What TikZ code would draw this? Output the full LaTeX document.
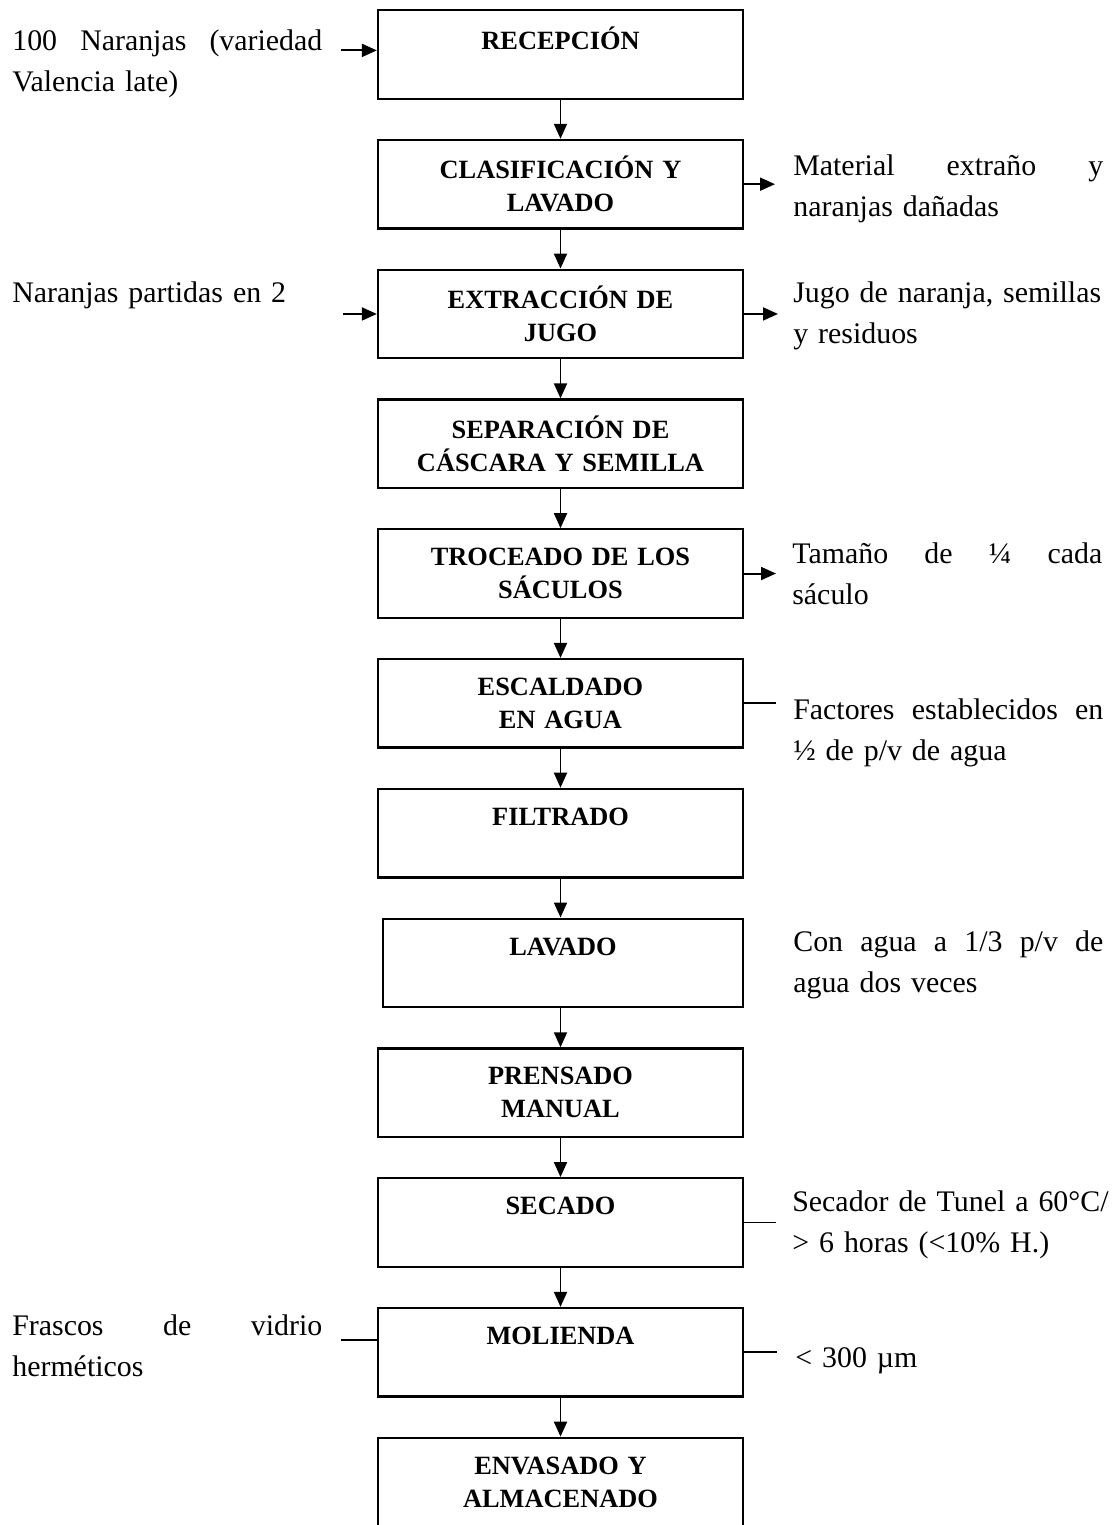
\documentclass[tikz,border=0pt]{standalone}
\usepackage{fontspec}
\setmainfont{Liberation Serif}
\usetikzlibrary{arrows.meta,positioning}

\begin{document}
\begin{tikzpicture}[
    node distance=0.78cm,
    stepbox/.style={draw, line width=1.3pt, minimum width=7.3cm, minimum height=1.77cm,
      text width=7cm, align=center, inner sep=0pt, font=\bfseries\fontsize{15}{18.7}\selectfont},
    note/.style={anchor=base west, text width=6.2cm, align=left, inner sep=0pt,
      font=\fontsize{17}{23.6}\selectfont},
    flow/.style={-{Triangle[length=3mm,width=2.6mm]}, line width=1.1pt},
    link/.style={line width=1.1pt}]
        \useasboundingbox (0,0) rectangle (22.32,-30.5);
        \clip (0,0) rectangle (22.32,-30.5);
        % process steps
        \node[stepbox, anchor=north] (b1) at (11.21,-0.18) {RECEPCIÓN\\ \mbox{}};
        \node[stepbox, below=of b1] (b2) {CLASIFICACIÓN Y\\ LAVADO};
        \node[stepbox, below=of b2] (b3) {EXTRACCIÓN DE\\ JUGO};
        \node[stepbox, below=of b3] (b4) {SEPARACIÓN DE\\ CÁSCARA Y SEMILLA};
        \node[stepbox, below=of b4] (b5) {TROCEADO DE LOS\\ SÁCULOS};
        \node[stepbox, below=of b5] (b6) {ESCALDADO\\ EN AGUA};
        \node[stepbox, below=of b6] (b7) {FILTRADO\\ \mbox{}};
        \node[stepbox, below=of b7, minimum width=7.2cm, xshift=0.05cm] (b8) {LAVADO\\ \mbox{}};
        \node[stepbox, below=of b8, xshift=-0.05cm] (b9) {PRENSADO\\ MANUAL};
        \node[stepbox, below=of b9] (b10) {SECADO\\ \mbox{}};
        \node[stepbox, below=of b10] (b11) {MOLIENDA\\ \mbox{}};
        \node[stepbox, below=of b11] (b12) {ENVASADO Y\\ ALMACENADO};
        % side notes
        \node[note] (t1) at (0.24,-1.0) {100\hfill Naranjas\hfill (variedad\\ Valencia late)};
        \node[note] (t2) at (15.86,-3.5) {Material\hfill extraño\hfill y\\ naranjas dañadas};
        \node[note] (t3) at (0.24,-6.04) {Naranjas partidas en 2};
        \node[note] (t4) at (15.86,-6.04) {Jugo de naranja, semillas\\ y residuos};
        \node[note] (t5) at (15.84,-11.26) {Tamaño\hfill de\hfill ¼\hfill cada\\ sáculo};
        \node[note] (t6) at (15.86,-14.38) {Factores\hfill establecidos\hfill en\\ ½ de p/v de agua};
        \node[note] (t7) at (15.86,-19.02) {Con\hfill agua\hfill a\hfill 1/3\hfill p/v\hfill de\\ agua dos veces};
        \node[note, text width=6.45cm] (t8) at (15.84,-24.22) {Secador de Tunel a 60°C/\\ > 6 horas (<10\% H.)};
        \node[note] (t9) at (15.9,-27.34) {< 300 µm};
        \node[note] (t10) at (0.24,-26.7) {Frascos\hfill de\hfill vidrio\\ herméticos};
        % main flow
        \draw[flow] (b1) -- (b2); \draw[flow] (b2) -- (b3); \draw[flow] (b3) -- (b4);
        \draw[flow] (b4) -- (b5); \draw[flow] (b5) -- (b6); \draw[flow] (b6) -- (b7);
        \draw[flow] (b7.south) -- (b7.south |- b8.north); \draw[flow] (b8.south -| b9.north) -- (b9.north);
        \draw[flow] (b9) -- (b10); \draw[flow] (b10) -- (b11); \draw[flow] (b11) -- (b12);
        % inputs and outputs
        \draw[flow] ([xshift=0.36cm, yshift=0.08cm]b1.west -| t1.east) -- ([yshift=0.08cm]b1.west);
        \draw[flow, shorten >=0.36cm] (b2.east) -- (b2.east -| t2.west);
        \draw[flow] ([xshift=0.4cm]b3.west -| t3.east) -- (b3.west);
        \draw[flow, shorten >=0.3cm] (b3.east) -- (b3.east -| t4.west);
        \draw[flow, shorten >=0.32cm] (b5.east) -- (b5.east -| t5.west);
        \draw[link, shorten >=0.34cm] (b6.east) -- (b6.east -| t6.west);
        \draw[link, shorten >=0.32cm] (b10.east) -- (b10.east -| t8.west);
        \draw[link, shorten >=0.36cm] (b11.east) -- (b11.east -| t9.west);
        \draw[link] ([xshift=0.36cm, yshift=0.24cm]b11.west -| t10.east) -- ([yshift=0.24cm]b11.west);
\end{tikzpicture}
\end{document}
